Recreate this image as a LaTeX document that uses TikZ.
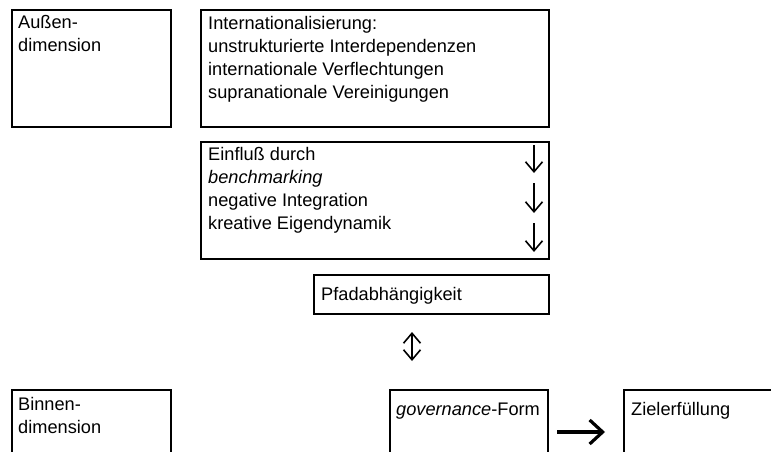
\documentclass[tikz,border=0pt]{standalone}
\usepackage{fontspec}
\setmainfont{Liberation Sans}
\usetikzlibrary{arrows.meta}
\begin{document}
\begin{tikzpicture}[x=1pt,y=-1pt,
  box/.style={draw, line width=2pt, inner sep=0pt, anchor=north west},
  txt/.style={inner sep=0pt, anchor=base west, font=\fontsize{18.2}{23}\selectfont},
  thinarrow/.style={line width=1.6pt, -{Straight Barb[length=10pt,width=17pt]}},
  twoarrow/.style={line width=1.6pt, {Straight Barb[length=10pt,width=17pt]}-{Straight Barb[length=10pt,width=17pt]}},
  thickarrow/.style={line width=3.2pt, -{Straight Barb[length=13pt,width=24pt]}}]
\useasboundingbox (0,0) rectangle (771,452);
\fill[white] (0,0) rectangle (771,452);
\clip (0,0) rectangle (771,452);
% boxes
\node[box, minimum width=159pt, minimum height=117pt] (aussen) at (11,9) {};
\node[box, minimum width=348pt, minimum height=117pt] (intl) at (200,9) {};
\node[box, minimum width=348pt, minimum height=117pt] (einfluss) at (200,141) {};
\node[box, minimum width=235pt, minimum height=39pt] (pfad) at (313,274) {};
\node[box, minimum width=159pt, minimum height=100pt] (binnen) at (11,389) {};
\node[box, minimum width=158pt, minimum height=100pt] (gov) at (389,389) {};
\node[box, minimum width=220pt, minimum height=100pt] (ziel) at (623,389) {};
% texts
\node[txt] (taussen) at (18,29) {\parbox[t]{150pt}{Außen-\\dimension}};
\node[txt] (tintl) at (208,30) {\parbox[t]{330pt}{Internationalisierung:\\unstrukturierte Interdependenzen\\internationale Verflechtungen\\supranationale Vereinigungen}};
\node[txt] (teinfluss) at (208,160) {\parbox[t]{300pt}{Einfluß durch\\\textit{benchmarking}\\negative Integration\\kreative Eigendynamik}};
\node[txt] (tpfad) at (321,300) {Pfadabhängigkeit};
\node[txt] (tbinnen) at (18,410) {\parbox[t]{150pt}{Binnen-\\dimension}};
\node[txt] (tgov) at (396,415) {\textit{governance}-Form};
\node[txt] (tziel) at (631,415) {Zielerfüllung};
% arrows
\coordinate (d1a) at (534,145); \coordinate (d1b) at (534,173);
\coordinate (d2a) at (534,183); \coordinate (d2b) at (534,213);
\coordinate (d3a) at (534,223); \coordinate (d3b) at (534,252);
\draw[thinarrow] (d1a) -- (d1b);
\draw[thinarrow] (d2a) -- (d2b);
\draw[thinarrow] (d3a) -- (d3b);
\coordinate (ua) at (412,332); \coordinate (ub) at (412,361);
\draw[twoarrow] (ua) -- (ub);
\coordinate (ra) at (557,432); \coordinate (rb) at (605,432);
\draw[thickarrow] (ra) -- (rb);
\end{tikzpicture}
\end{document}
